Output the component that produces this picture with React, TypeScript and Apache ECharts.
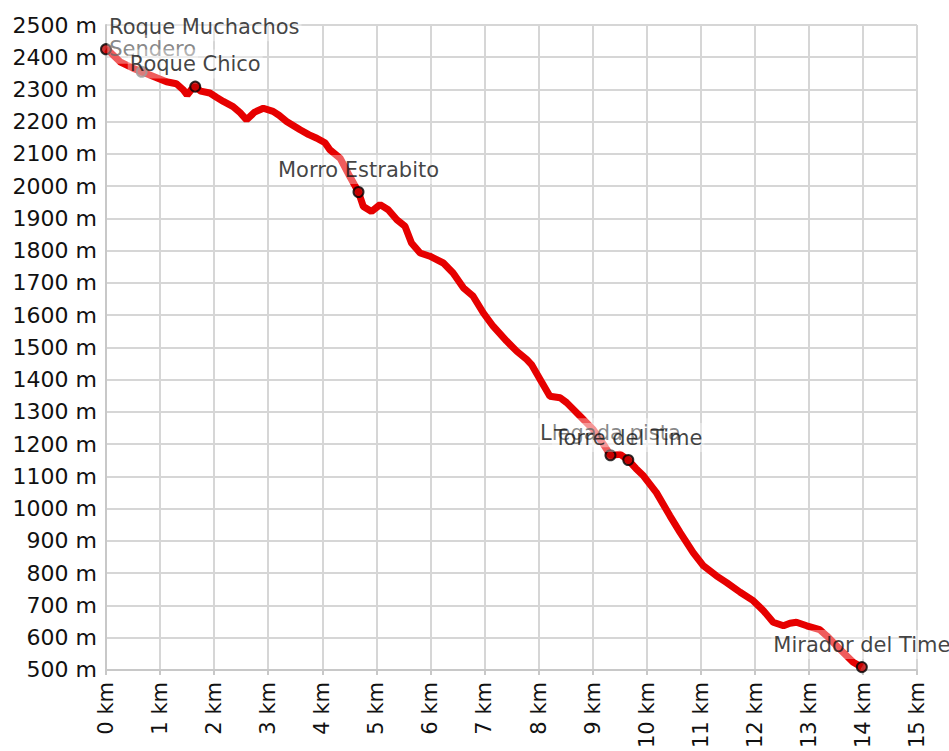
import React, { useEffect, useRef } from "react";
import * as echarts from "echarts";

const trackKm = [
  0, 0.05, 0.26, 0.5, 0.66, 0.81, 1.12, 1.3, 1.43, 1.5, 1.58, 1.65, 1.75, 1.92, 2.05, 2.17, 2.35, 2.48,
  2.6, 2.75, 2.91, 3.09, 3.2, 3.34, 3.59, 3.75, 3.9, 4.05, 4.14, 4.33, 4.51, 4.67, 4.76, 4.91, 5.07,
  5.22, 5.38, 5.53, 5.65, 5.81, 5.99, 6.24, 6.42, 6.61, 6.79, 6.98, 7.16, 7.41, 7.6, 7.78, 7.87, 8.03,
  8.21, 8.4, 8.52, 8.77, 9.01, 9.2, 9.33, 9.51, 9.66, 9.8, 9.94, 10.18, 10.43, 10.62, 10.86, 11.05,
  11.29, 11.48, 11.73, 11.97, 12.16, 12.34, 12.53, 12.65, 12.77, 12.96, 13.2, 13.33, 13.57, 13.82, 13.98,
];
const trackElev = [
  2425, 2420, 2386, 2366, 2355, 2345, 2324, 2318, 2299, 2283, 2300, 2309, 2295, 2289, 2275, 2263, 2247, 2228,
  2206, 2230, 2242, 2232, 2220, 2201, 2175, 2160, 2149, 2135, 2113, 2087, 2030, 1982, 1937, 1922, 1943,
  1927, 1896, 1876, 1824, 1793, 1783, 1762, 1731, 1685, 1659, 1607, 1566, 1520, 1488, 1463, 1447, 1401,
  1349, 1344, 1329, 1287, 1246, 1200, 1166, 1169, 1151, 1125, 1102, 1050, 978, 926, 864, 823,
  792, 771, 741, 715, 684, 648, 637, 645, 648, 637, 625, 606, 565, 524, 509,
];

const poiNames = [
  "Roque Muchachos",
  "Sendero",
  "Roque Chico",
  "Morro Estrabito",
  "Llegada pista",
  "Torre del Time",
  "Mirador del Time",
];
const poiKm = [0, 0.66, 1.65, 4.67, 9.33, 9.66, 13.98];
const poiElev = [2425, 2355, 2309, 1982, 1166, 1151, 509];

const FONT = "DejaVu Sans";

export default function App() {
  const ref = useRef<HTMLDivElement>(null);
  useEffect(() => {
    if (!ref.current) return;
    const chart = echarts.init(ref.current, undefined, { renderer: "svg" });
    const poiData = poiNames.map((name, i) => {
      const item: any = { name, value: [poiKm[i], poiElev[i]] };
      if (name === "Roque Muchachos") {
        item.label = { align: "left", offset: [1, 0] };
      } else if (name === "Sendero") {
        item.label = { offset: [11, 0], color: "#6a6a6a" };
        item.itemStyle = { borderColor: "#666", color: "#c04040" };
      }
      return item;
    });
    chart.setOption({
      animation: false,
      backgroundColor: "#fff",
      grid: { left: 106, right: 32, top: 25, bottom: 80, containLabel: false },
      xAxis: {
        type: "value",
        min: 0,
        max: 15,
        interval: 1,
        axisLine: { show: true, lineStyle: { color: "#c8c8c8", width: 2 } },
        axisTick: { show: true, length: 5, lineStyle: { color: "#c8c8c8", width: 2 } },
        splitLine: { show: true, lineStyle: { color: "#d6d6d6", width: 2 } },
        axisLabel: {
          rotate: 90,
          margin: 12,
          formatter: (v: number) => v + " km",
          fontFamily: FONT,
          fontSize: 21,
          color: "#111",
        },
      },
      yAxis: {
        type: "value",
        min: 500,
        max: 2500,
        interval: 100,
        axisLine: { show: true, lineStyle: { color: "#c8c8c8", width: 2 } },
        axisTick: { show: false },
        splitLine: { show: true, lineStyle: { color: "#d6d6d6", width: 2 } },
        axisLabel: {
          margin: 9,
          formatter: (v: number) => v + " m",
          fontFamily: FONT,
          fontSize: 22,
          color: "#111",
        },
      },
      series: [
        {
          type: "line",
          data: trackKm.map((k, i) => [k, trackElev[i]]),
          showSymbol: false,
          symbol: "none",
          lineStyle: { color: "#e60000", width: 7 },
          z: 2,
        },
        {
          type: "scatter",
          data: poiData,
          symbol: "circle",
          symbolSize: 10,
          itemStyle: { color: "#c00000", borderColor: "#000", borderWidth: 2 },
          label: {
            show: true,
            formatter: "{b}",
            position: "top",
            distance: 2,
            fontFamily: FONT,
            fontSize: 21,
            color: "#111",
            backgroundColor: "rgba(255,255,255,0.45)",
            padding: [4, 2],
          },
          z: 3,
        },
      ],
    });
    return () => chart.dispose();
  }, []);
  return (
    <div
      ref={ref}
      style={{ position: "fixed", left: 0, top: 0, width: 949, height: 751, background: "#fff" }}
    />
  );
}
